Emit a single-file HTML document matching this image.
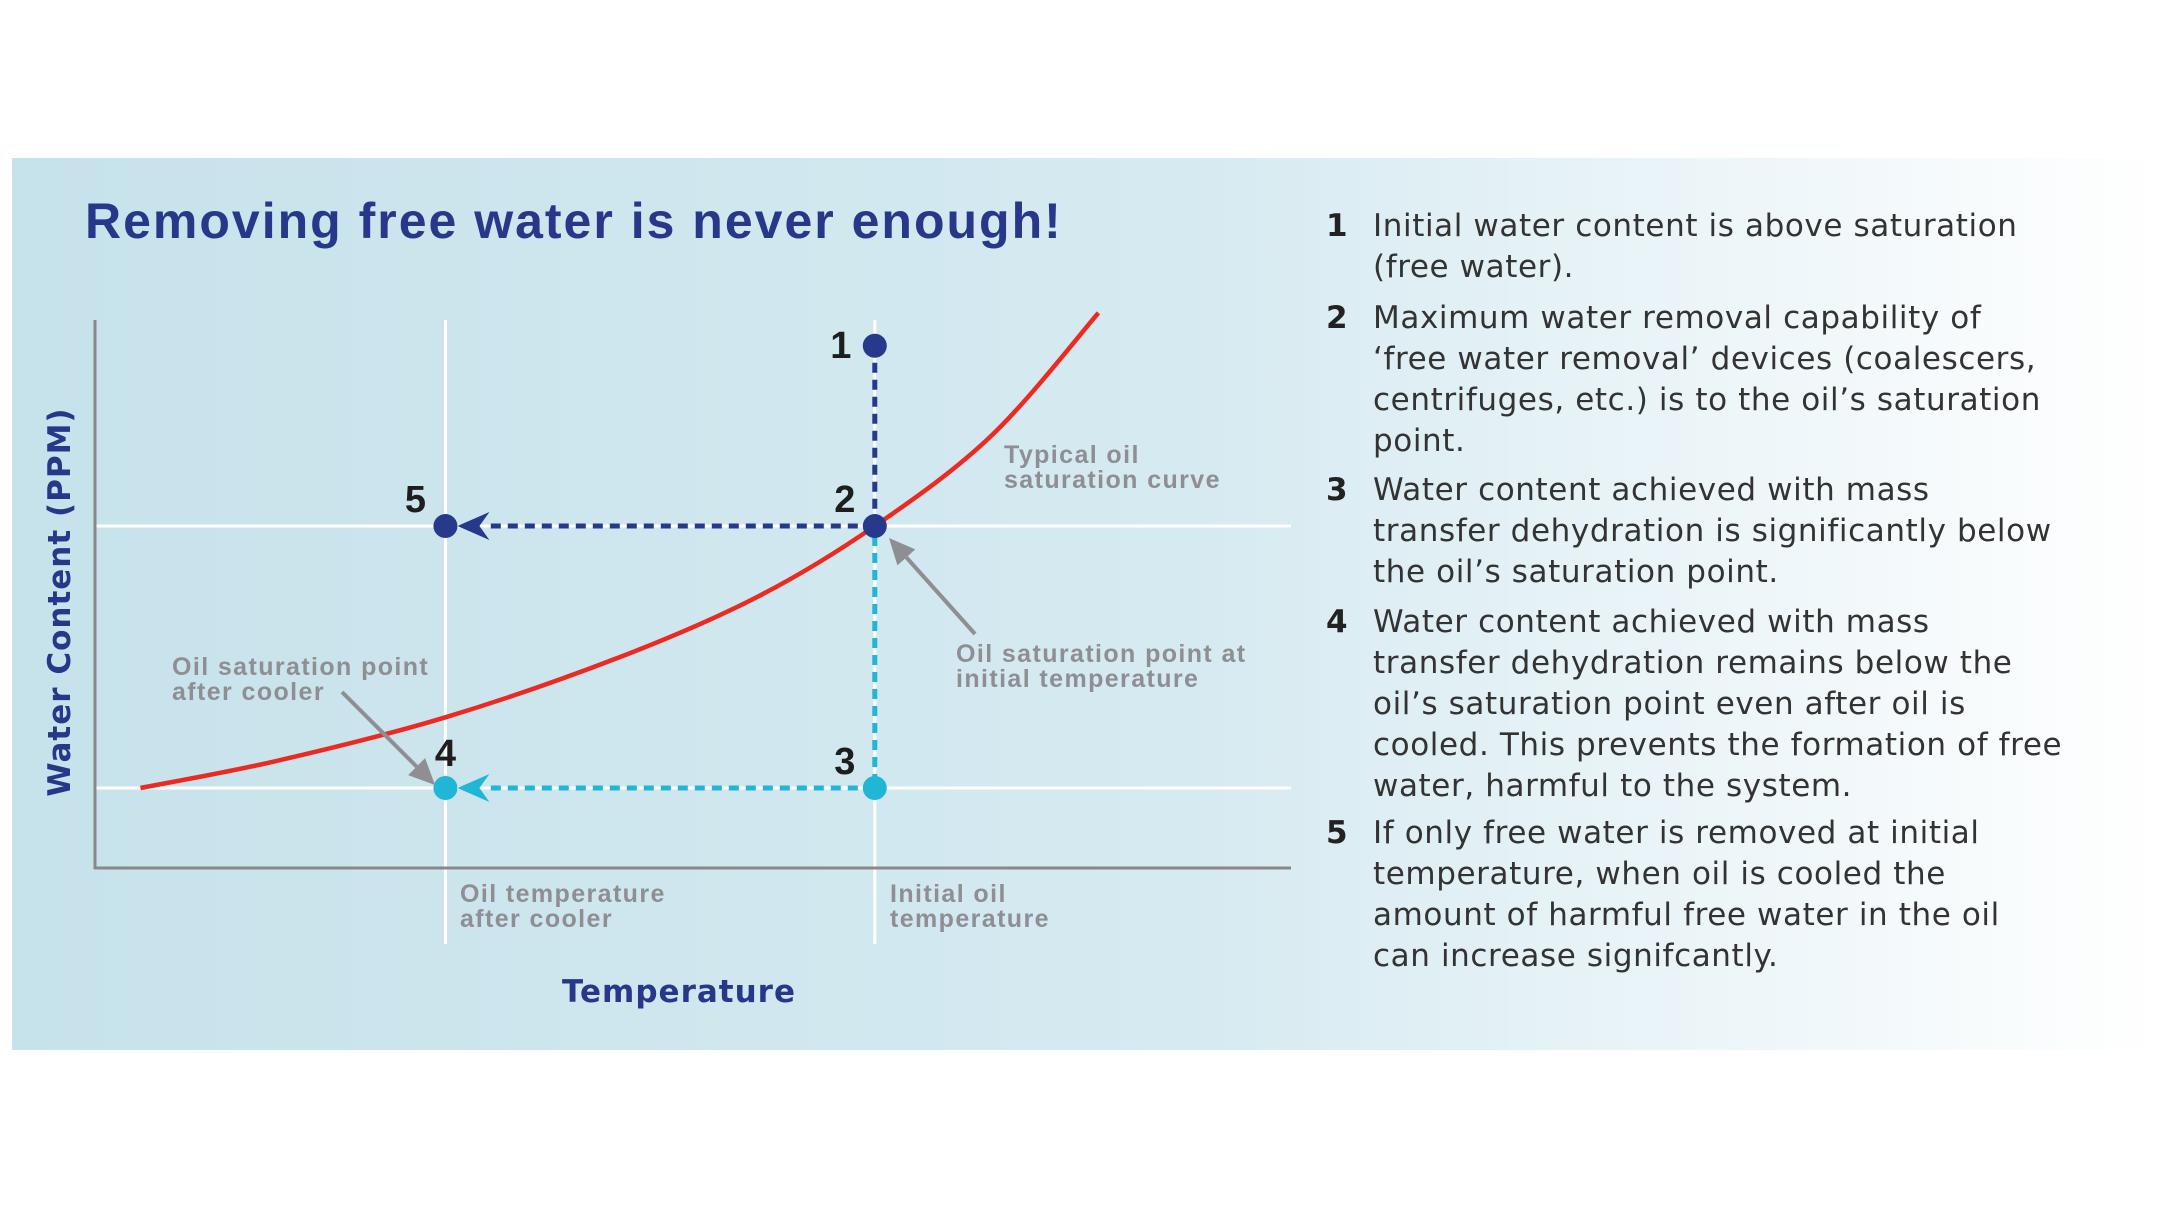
<!DOCTYPE html>
<html><head><meta charset="utf-8">
<style>
html,body{margin:0;padding:0;background:#fff;}
body{width:2160px;height:1215px;position:relative;overflow:hidden;font-family:"Liberation Sans",sans-serif;}
</style></head>
<body>
<svg width="2160" height="1215" viewBox="0 0 2160 1215" xmlns="http://www.w3.org/2000/svg">
<defs>
<linearGradient id="bg" x1="0" x2="1" y1="0" y2="0">
<stop offset="0" stop-color="#c6e2eb"/>
<stop offset="0.55" stop-color="#d6eaf1"/>
<stop offset="1" stop-color="#ffffff"/>
</linearGradient>
</defs>
<rect x="12" y="158" width="2148" height="892" fill="url(#bg)"/>
<text x="85" y="238" font-size="50" font-weight="bold" fill="#27388a" letter-spacing="2">Removing free water is never enough!</text>
<g id="chart"></g>
<g font-size="31" fill="#333" font-family="DejaVu Sans, sans-serif" letter-spacing="0.6">
<g><text x="1326" y="236" font-weight="bold" fill="#222">1</text><text x="1373" y="236">Initial water content is above saturation</text><text x="1373" y="277">(free water).</text></g>
<g><text x="1326" y="328" font-weight="bold" fill="#222">2</text><text x="1373" y="328">Maximum water removal capability of</text><text x="1373" y="369">‘free water removal’ devices (coalescers,</text><text x="1373" y="410">centrifuges, etc.) is to the oil’s saturation</text><text x="1373" y="451">point.</text></g>
<g><text x="1326" y="500" font-weight="bold" fill="#222">3</text><text x="1373" y="500">Water content achieved with mass</text><text x="1373" y="541">transfer dehydration is significantly below</text><text x="1373" y="582">the oil’s saturation point.</text></g>
<g><text x="1326" y="632" font-weight="bold" fill="#222">4</text><text x="1373" y="632">Water content achieved with mass</text><text x="1373" y="673">transfer dehydration remains below the</text><text x="1373" y="714">oil’s saturation point even after oil is</text><text x="1373" y="755">cooled. This prevents the formation of free</text><text x="1373" y="796">water, harmful to the system.</text></g>
<g><text x="1326" y="843" font-weight="bold" fill="#222">5</text><text x="1373" y="843">If only free water is removed at initial</text><text x="1373" y="884">temperature, when oil is cooled the</text><text x="1373" y="925">amount of harmful free water in the oil</text><text x="1373" y="966">can increase signifcantly.</text></g>
</g>
</svg>
<script>
// data
var curveT = [3.8, 15.1, 29.3, 43.9, 55.4, 65.2, 75.0, 83.9];
var curveW = [14.6, 19.5, 27.5, 38.5, 49.5, 62.4, 79.0, 101.3];
var coolT = 29.3;
var initT = 65.2;
var pointLabels = ['1','2','3','4','5'];
var pointT = [65.2, 65.2, 65.2, 29.3, 29.3];
var pointW = [95.3, 62.4, 14.6, 14.6, 62.4];

var NS='http://www.w3.org/2000/svg';
var g=document.getElementById('chart');
function X(t){return 95+t*11.96;}
function Y(w){return 868-w*5.48;}
function mk(tag,attrs,parent){var e=document.createElementNS(NS,tag);for(var k in attrs)e.setAttribute(k,attrs[k]);(parent||g).appendChild(e);return e;}
var e;
e=mk('line',{x1:95,x2:1291,y1:Y(pointW[1]),y2:Y(pointW[1]),stroke:'#fff','stroke-width':3});


e=mk('line',{x1:95,x2:1291,y1:Y(pointW[2]),y2:Y(pointW[2]),stroke:'#fff','stroke-width':3});


e=mk('line',{x1:X(coolT),x2:X(coolT),y1:320,y2:944,stroke:'#fff','stroke-width':3});


e=mk('line',{x1:X(initT),x2:X(initT),y1:320,y2:944,stroke:'#fff','stroke-width':3});


e=mk('line',{x1:95,x2:95,y1:320,y2:869,stroke:'#888','stroke-width':3});


e=mk('line',{x1:94,x2:1291,y1:868,y2:868,stroke:'#888','stroke-width':3});


var P=curveT.map(function(t,i){return [X(t),Y(curveW[i])];});
var d='M'+P[0][0]+','+P[0][1];
for(var i=0;i<P.length-1;i++){var p0=P[i-1]||P[i],p1=P[i],p2=P[i+1],p3=P[i+2]||P[i+1];
d+=' C'+(p1[0]+(p2[0]-p0[0])/6)+','+(p1[1]+(p2[1]-p0[1])/6)+' '+(p2[0]-(p3[0]-p1[0])/6)+','+(p2[1]-(p3[1]-p1[1])/6)+' '+p2[0]+','+p2[1];}
e=mk('path',{d:d,fill:'none',stroke:'#ec2a22','stroke-width':4.5});


var dark='#26398c',cyan='#21b6d6';
function dash(x1,y1,x2,y2,c,name){var l=mk('line',{x1:x1,y1:y1,x2:x2,y2:y2,stroke:c,'stroke-width':5,'stroke-dasharray':'10 7'});

}
dash(X(pointT[0]),Y(pointW[0]),X(pointT[1]),Y(pointW[1]),dark,'path-1-to-2');
dash(X(pointT[1]),Y(pointW[1])+10,X(pointT[2]),Y(pointW[2]),cyan,'path-2-to-3');
dash(X(pointT[1]),Y(pointW[1]),X(pointT[4])+40,Y(pointW[4]),dark,'path-2-to-5');
dash(X(pointT[2]),Y(pointW[2]),X(pointT[3])+40,Y(pointW[3]),cyan,'path-3-to-4');
function head(x,y,c,name){var h=mk('path',{d:'M'+(x+12)+','+y+' L'+(x+44)+','+(y-14)+' L'+(x+34)+','+y+' L'+(x+44)+','+(y+14)+' Z',fill:c});

}
head(X(pointT[4]),Y(pointW[4]),dark,'arrowhead-5');
head(X(pointT[3]),Y(pointW[3]),cyan,'arrowhead-4');
var pc=[dark,dark,cyan,cyan,dark];
var lx=[-34,-30,-30,0,-30], ly=[12,-14,-14,-22,-14];
for(var j=0;j<pointT.length;j++){
  var c=mk('circle',{cx:X(pointT[j]),cy:Y(pointW[j]),r:12,fill:pc[j]});
  
  
  var t=mk('text',{x:X(pointT[j])+lx[j],y:Y(pointW[j])+ly[j],'font-size':38,'font-weight':'bold',fill:'#1e1e1e','text-anchor':'middle'});
  t.textContent=pointLabels[j];
  
  
}
function garrow(x1,y1,x2,y2,name){var a=Math.atan2(y2-y1,x2-x1),L=26,W=12;
var bx=x2-L*Math.cos(a),by=y2-L*Math.sin(a);
var l=mk('line',{x1:x1,y1:y1,x2:bx,y2:by,stroke:'#8e8e93','stroke-width':4});


var h=mk('path',{d:'M'+x2+','+y2+' L'+(bx+W*Math.sin(a))+','+(by-W*Math.cos(a))+' L'+(bx-W*Math.sin(a))+','+(by+W*Math.cos(a))+' Z',fill:'#8e8e93'});

}
garrow(975,634,889,538,'annotation-arrow-initial');
garrow(342,692,435,785,'annotation-arrow-cooler');
function txt(x,y,lines,name){var t=mk('text',{x:x,y:y,'font-size':25,fill:'#8e8e93','font-weight':'bold','letter-spacing':1.4});


lines.forEach(function(s,i){var ts=mk('tspan',{x:x,dy:i?25:0},t);ts.textContent=s;});}
txt(1004,463,['Typical oil','saturation curve'],'curve-annotation');
txt(956,662,['Oil saturation point at','initial temperature'],'initial-saturation-annotation');
txt(172,675,['Oil saturation point','after cooler'],'cooler-saturation-annotation');
txt(460,902,['Oil temperature','after cooler'],'cool-temp-label');
txt(890,902,['Initial oil','temperature'],'initial-temp-label');
var xt=mk('text',{x:679,y:1002,'font-size':31,'font-weight':'bold',fill:'#27388a','text-anchor':'middle','font-family':'DejaVu Sans, sans-serif','letter-spacing':1});
xt.textContent='Temperature';


var yt=mk('text',{x:0,y:0,'font-size':31,'font-weight':'bold',fill:'#27388a','text-anchor':'middle','font-family':'DejaVu Sans, sans-serif','letter-spacing':1,transform:'translate(70,602) rotate(-90)'});
yt.textContent='Water Content (PPM)';


</script>
</body></html>
